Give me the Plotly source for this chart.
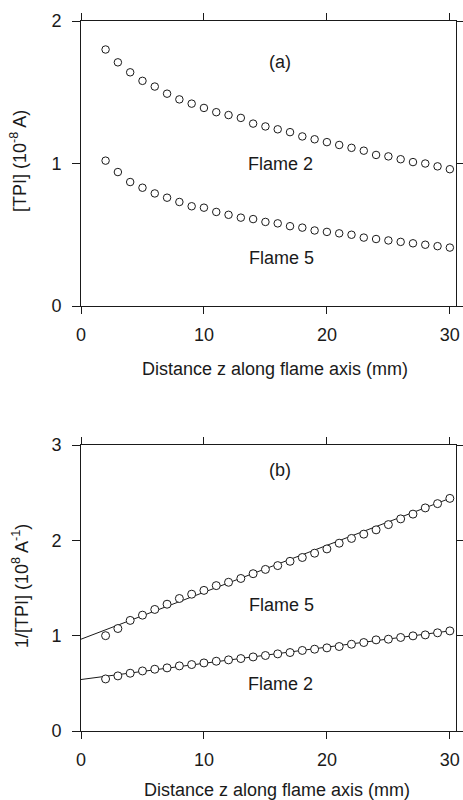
import plotly.graph_objects as go

# ---- data ----
z = list(range(2, 31))

# panel (a): [TPI] (1e-8 A)
tpi_flame2 = [1.80, 1.71, 1.64, 1.58, 1.54, 1.49, 1.45, 1.42, 1.39, 1.36,
              1.34, 1.32, 1.28, 1.26, 1.24, 1.22, 1.19, 1.17, 1.15, 1.13,
              1.11, 1.09, 1.06, 1.05, 1.03, 1.01, 1.00, 0.98, 0.96]
tpi_flame5 = [1.02, 0.94, 0.87, 0.83, 0.79, 0.76, 0.73, 0.70, 0.69, 0.66,
              0.64, 0.62, 0.61, 0.59, 0.58, 0.56, 0.55, 0.53, 0.52, 0.51,
              0.50, 0.48, 0.47, 0.46, 0.45, 0.44, 0.43, 0.42, 0.41]

# panel (b): 1/[TPI] (1e8 A^-1)
inv_flame5 = [1.00, 1.075, 1.16, 1.215, 1.275, 1.33, 1.39, 1.435, 1.475, 1.525,
              1.56, 1.60, 1.65, 1.695, 1.735, 1.78, 1.82, 1.865, 1.91, 1.97,
              2.02, 2.065, 2.11, 2.165, 2.225, 2.275, 2.34, 2.385, 2.44]
inv_flame2 = [0.546, 0.578, 0.606, 0.63, 0.648, 0.662, 0.683, 0.697, 0.714, 0.732,
              0.746, 0.76, 0.777, 0.792, 0.809, 0.823, 0.845, 0.858, 0.872, 0.886,
              0.91, 0.928, 0.956, 0.963, 0.981, 0.998, 1.008, 1.03, 1.05]

# fitted straight lines (end points)
fit_z = [0, 30]
fit_flame5 = [0.963, 2.44]
fit_flame2 = [0.54, 1.05]

x_ticks = [0, 10, 20, 30]
ya_ticks = [0, 1, 2]
yb_ticks = [0, 1, 2, 3]

FONT = "Liberation Sans, Arial, Helvetica, sans-serif"
INK = "#1a1a1a"

marker = dict(symbol="circle", size=7.5, color="white", line=dict(color=INK, width=1))

fig = go.Figure()

# panel (a)
fig.add_trace(go.Scatter(x=z, y=tpi_flame2, mode="markers", marker=marker,
                         xaxis="x", yaxis="y", showlegend=False))
fig.add_trace(go.Scatter(x=z, y=tpi_flame5, mode="markers", marker=marker,
                         xaxis="x", yaxis="y", showlegend=False))

# panel (b)
fig.add_trace(go.Scatter(x=fit_z, y=fit_flame5, mode="lines", line=dict(color=INK, width=1),
                         xaxis="x2", yaxis="y2", showlegend=False))
fig.add_trace(go.Scatter(x=fit_z, y=fit_flame2, mode="lines", line=dict(color=INK, width=1),
                         xaxis="x2", yaxis="y2", showlegend=False))
fig.add_trace(go.Scatter(x=z, y=inv_flame5, mode="markers", marker=dict(marker, size=8),
                         xaxis="x2", yaxis="y2", showlegend=False))
fig.add_trace(go.Scatter(x=z, y=inv_flame2, mode="markers", marker=dict(marker, size=8),
                         xaxis="x2", yaxis="y2", showlegend=False))

W, H = 463, 800
xdom = [81 / W, 456 / W]
common_x = dict(range=[0, 30.5], tickvals=x_ticks, ticks="outside", ticklen=7,
                tickcolor=INK, showline=True, linecolor=INK, linewidth=1,
                mirror="ticks", showgrid=False, zeroline=False,
                tickfont=dict(family=FONT, size=18, color=INK), automargin=False,
                ticklabelstandoff=5, domain=xdom)
common_y = dict(ticks="outside", ticklen=8, tickcolor=INK, showline=True,
                linecolor=INK, linewidth=1, mirror="ticks", showgrid=False,
                zeroline=False, tickfont=dict(family=FONT, size=18, color=INK),
                automargin=False, ticklabelstandoff=7)

fig.update_layout(
    width=W, height=H,
    margin=dict(l=0, r=0, t=0, b=0),
    paper_bgcolor="white", plot_bgcolor="white",
    font=dict(family=FONT, size=18, color=INK),
    xaxis=dict(common_x, anchor="y"),
    yaxis=dict(common_y, range=[0, 2], tickvals=ya_ticks,
               domain=[1 - 306 / H, 1 - 21 / H], anchor="x"),
    xaxis2=dict(common_x, anchor="y2"),
    yaxis2=dict(common_y, range=[0, 3], tickvals=yb_ticks,
                domain=[1 - 731 / H, 1 - 445 / H], anchor="x2"),
)

ann_font = dict(family=FONT, size=18, color=INK)
labels = [
    ("x", "y", 16.2, 1.71, "(a)"),
    ("x", "y", 16.2, 1.00, "Flame 2"),
    ("x", "y", 16.3, 0.34, "Flame 5"),
    ("x2", "y2", 16.2, 2.735, "(b)"),
    ("x2", "y2", 16.3, 1.32, "Flame 5"),
    ("x2", "y2", 16.2, 0.496, "Flame 2"),
]
for xr, yr, xv, yv, txt in labels:
    fig.add_annotation(x=xv, y=yv, xref=xr, yref=yr, text=txt, showarrow=False,
                       xanchor="center", yanchor="middle", font=ann_font)

# axis titles
fig.add_annotation(x=275 / W, y=1 - 369 / H, xref="paper", yref="paper",
                   text="Distance z along flame axis (mm)", showarrow=False,
                   xanchor="center", yanchor="middle", font=ann_font)
fig.add_annotation(x=277 / W, y=1 - 790 / H, xref="paper", yref="paper",
                   text="Distance z along flame axis (mm)", showarrow=False,
                   xanchor="center", yanchor="middle", font=ann_font)
fig.add_annotation(x=18 / W, y=1 - 161 / H, xref="paper", yref="paper",
                   text="[TPI] (10<sup>-8</sup> A)", textangle=-90, showarrow=False,
                   xanchor="center", yanchor="middle", font=ann_font)
fig.add_annotation(x=20 / W, y=1 - 586 / H, xref="paper", yref="paper",
                   text="1/[TPI] (10<sup>8</sup> A<sup>-1</sup>)", textangle=-90,
                   showarrow=False, xanchor="center", yanchor="middle", font=ann_font)

fig.write_html("out.html")
